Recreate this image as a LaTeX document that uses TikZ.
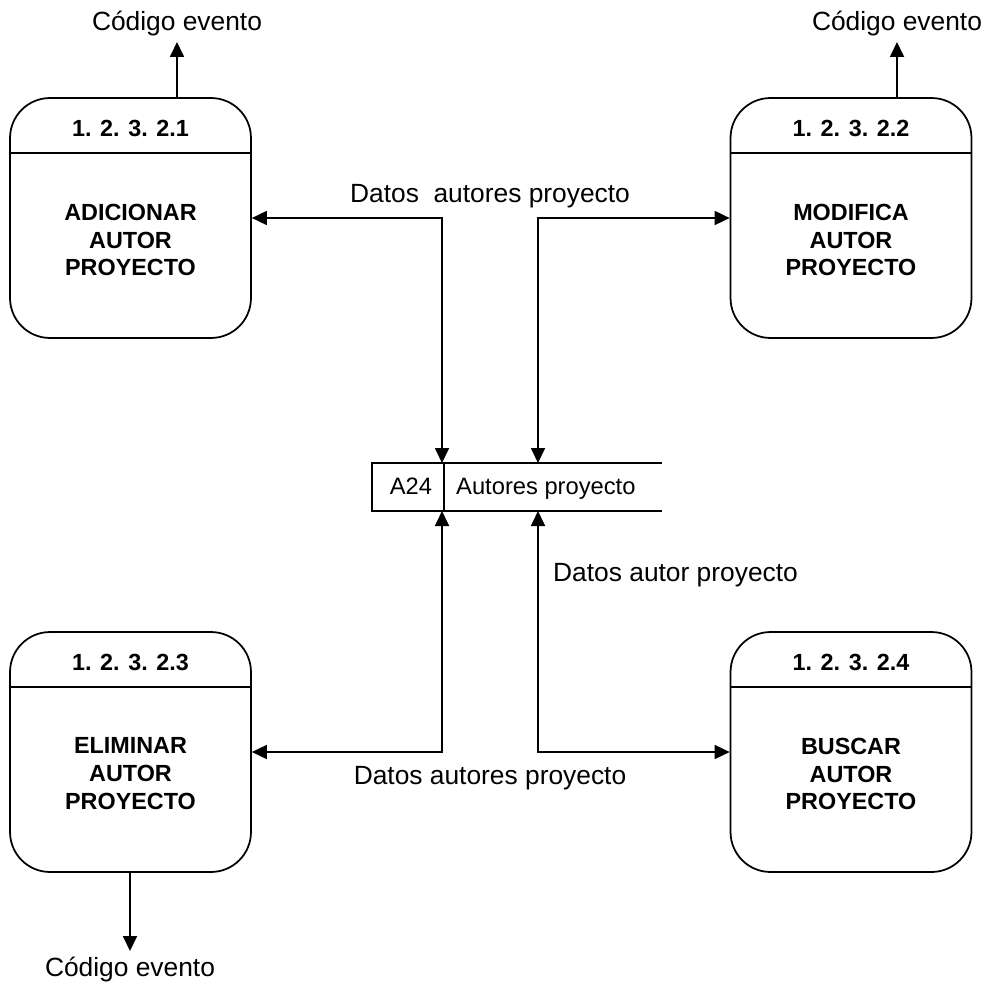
\documentclass[tikz,border=0pt]{standalone}
\usepackage{fontspec}
\setmainfont{Liberation Sans}
\usetikzlibrary{arrows.meta, positioning}

\tikzset{
    proc/.style={draw, line width=1pt, rounded corners=0.8cm,
        minimum width=4.82cm, minimum height=4.8cm},
    flow/.style={line width=1pt, >={Triangle[length=0.3cm, width=0.28cm]}},
    lbl/.style={font=\fontsize{15}{18}\selectfont},
    idtxt/.style={font=\bfseries\fontsize{13.3}{15}\selectfont},
    bodytxt/.style={font=\bfseries\fontsize{13.3}{15.9}\selectfont, align=center},
    storetxt/.style={font=\fontsize{13.5}{16}\selectfont}
}

\begin{document}
\begin{tikzpicture}[x=0.02cm, y=-0.02cm]

\useasboundingbox (0,0) rectangle (987,990);

% ============================================================
% Processes
% ============================================================
\foreach \n/\x/\y/\id/\txt in {
    p1/130.5/218/{1. 2. 3. 2.1}/{ADICIONAR\\AUTOR\\PROYECTO},
    p2/851/218/{1. 2. 3. 2.2}/{MODIFICA\\AUTOR\\PROYECTO},
    p3/130.5/752/{1. 2. 3. 2.3}/{ELIMINAR\\AUTOR\\PROYECTO},
    p4/851/752/{1. 2. 3. 2.4}/{BUSCAR\\AUTOR\\PROYECTO}} {
    \node[proc] (\n) at (\x,\y) {};
    \draw[line width=1pt] ([yshift=-1.12cm]\n.north west) -- ([yshift=-1.12cm]\n.north east);
    \node[idtxt] (\n-id) at (\x,\y-90) {\id};
    \node[bodytxt] (\n-txt) at (\x,\y+22) {\txt};
}

% ============================================================
% Data store
% ============================================================
\draw[line width=1pt] (662,463) -- (372,463) -- (372,511) -- (662,511);
\draw[line width=1pt] (444,463) -- (444,511);
\node[storetxt, anchor=base] (a24) at (411,494) {A24};
\node[storetxt, anchor=base west] (store) at (450,494) {Autores proyecto};

\coordinate (in1)  at (442,463);
\coordinate (in2)  at (538,463);
\coordinate (out1) at (442,511);
\coordinate (out2) at (538,511);

% ============================================================
% Data flows
% ============================================================
\draw[flow, <->] (p1.east) -| (in1);
\draw[flow, <->] (p2.west) -| (in2);
\draw[flow, <->] (p3.east) -| (out1);
\draw[flow, <->] (p4.west) -| (out2);

\node[lbl] (d1) at (490,196) {Datos\ \ autores proyecto};
\node[lbl] (d2) at (490,778) {Datos autores proyecto};
\node[lbl, anchor=west] (d3) at (547,575) {Datos autor proyecto};

% ============================================================
% Event codes
% ============================================================
\node[lbl, anchor=south] (ev1) at (177,42) {Código evento};
\node[lbl, anchor=south] (ev2) at (897,42) {Código evento};
\node[lbl, anchor=north] (ev3) at (130,951) {Código evento};

\draw[flow, ->] (p1.north -| ev1) -- (ev1);
\draw[flow, ->] (p2.north -| ev2) -- (ev2);
\draw[flow, ->] (p3.south -| ev3) -- (ev3);

\end{tikzpicture}
\end{document}
